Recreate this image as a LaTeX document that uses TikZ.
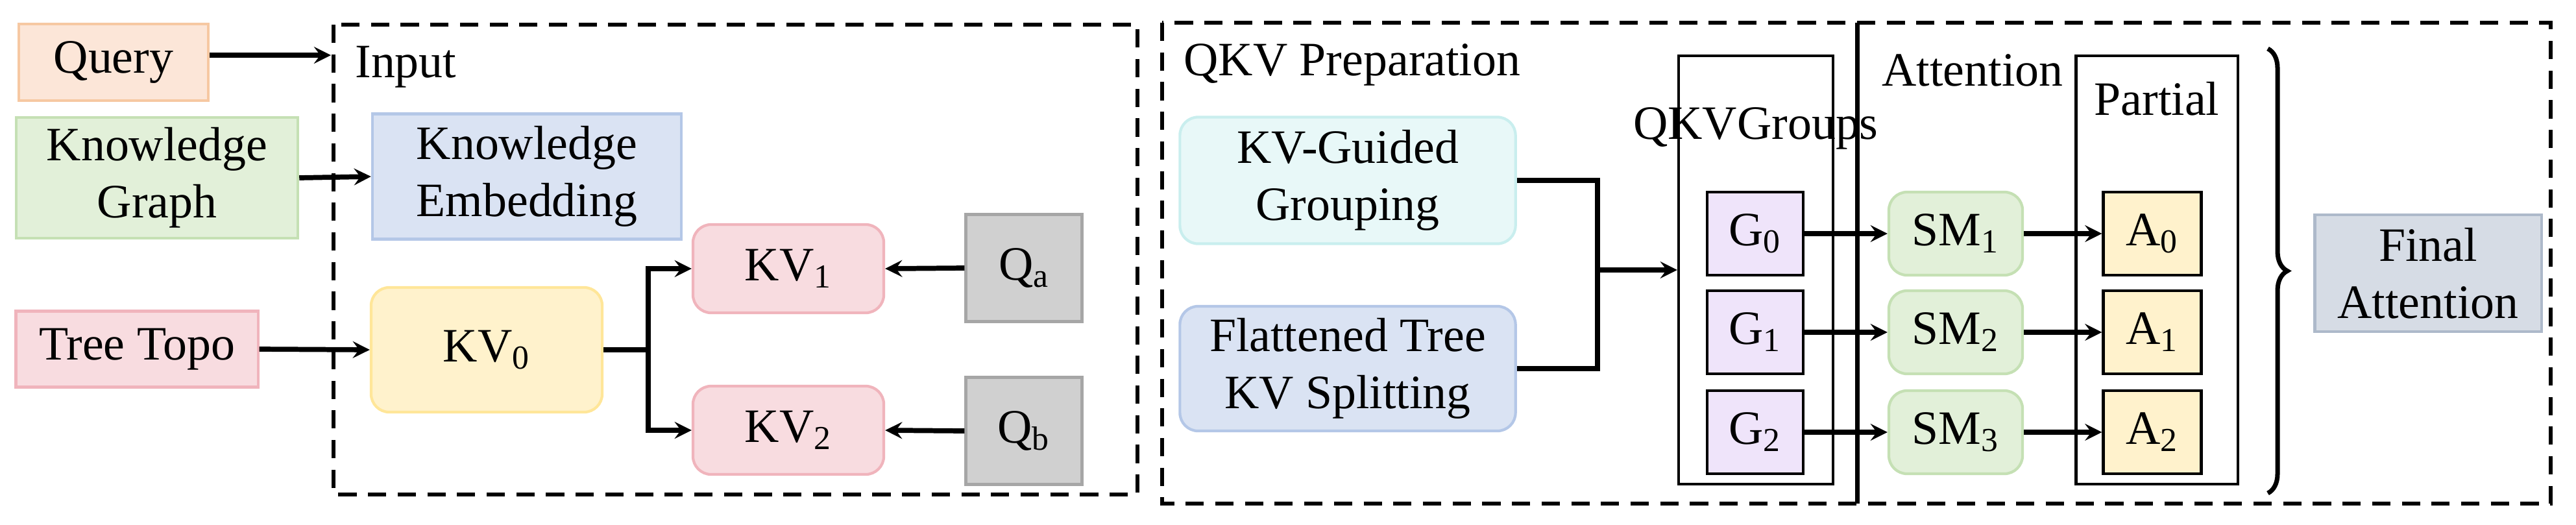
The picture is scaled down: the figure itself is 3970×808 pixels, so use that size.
\documentclass[tikz,border=0pt]{standalone}
\usepackage{fontspec}
\setmainfont{Liberation Serif}
\usetikzlibrary{decorations.pathreplacing}

\definecolor{queryfill}{HTML}{FCE6D8}\definecolor{querydraw}{HTML}{F6C8A2}
\definecolor{kgfill}{HTML}{E2F0D9}\definecolor{kgdraw}{HTML}{C5E0B4}
\definecolor{kefill}{HTML}{DAE3F3}\definecolor{kedraw}{HTML}{B4C7E7}
\definecolor{ttfill}{HTML}{F8DCE0}\definecolor{ttdraw}{HTML}{F0B4BC}
\definecolor{kvfill}{HTML}{FFF2CC}\definecolor{kvdraw}{HTML}{FFE699}
\definecolor{qfill}{HTML}{D0D0D0}\definecolor{qdraw}{HTML}{A6A6A6}
\definecolor{kvgfill}{HTML}{E8F8F8}\definecolor{kvgdraw}{HTML}{C9EEEE}
\definecolor{gfill}{HTML}{EFE4FA}
\definecolor{finfill}{HTML}{D6DCE5}\definecolor{findraw}{HTML}{ADB9CA}

\tikzset{
  box/.style={draw,line width=1.2pt,align=center,inner sep=2pt},
  rbox/.style={box,rounded corners=8pt},
  arr/.style={line width=2.2pt,-stealth},
  lnk/.style={line width=2.2pt},
  every node/.style={font=\fontsize{21}{25}\selectfont}
}

\begin{document}
\begin{tikzpicture}[x=0.01cm,y=-0.01cm]
\useasboundingbox (0,0) rectangle (3970,808);
% frames
\draw[line width=1.5pt,dash pattern=on 8pt off 5pt] (514,38) rectangle (1753,762);
\draw[line width=1.5pt,dash pattern=on 8pt off 5pt] (1791,35) rectangle (3931,776);
\draw[line width=2pt] (2862,35) -- (2862,776);
\node[anchor=west] (inlbl) at (535,103) {Input};
\node[anchor=west] (qkvlbl) at (1812,100) {QKV Preparation};
\node[anchor=west] (attlbl) at (2888,108) {Attention};

% input part
\node[box,fill=queryfill,draw=querydraw,minimum width=2.92cm,minimum height=1.18cm] (query) at (175,96) {Query};
\node[box,fill=kgfill,draw=kgdraw,minimum width=4.34cm,minimum height=1.86cm] (kg) at (242,274) {Knowledge\\Graph};
\node[box,fill=kefill,draw=kedraw,minimum width=4.76cm,minimum height=1.93cm] (ke) at (812,272) {Knowledge\\Embedding};
\node[box,fill=ttfill,draw=ttdraw,minimum width=3.73cm,minimum height=1.17cm] (tt) at (211,538) {Tree Topo};
\node[rbox,fill=kvfill,draw=kvdraw,minimum width=3.56cm,minimum height=1.92cm] (kv0) at (750,539) {KV\textsubscript{0}};
\node[rbox,fill=ttfill,draw=ttdraw,minimum width=2.94cm,minimum height=1.36cm] (kv1) at (1215,414) {KV\textsubscript{1}};
\node[rbox,fill=ttfill,draw=ttdraw,minimum width=2.94cm,minimum height=1.36cm] (kv2) at (1215,663) {KV\textsubscript{2}};
\node[box,fill=qfill,draw=qdraw,minimum width=1.79cm,minimum height=1.65cm] (qa) at (1578,413) {Q\textsubscript{a}};
\node[box,fill=qfill,draw=qdraw,minimum width=1.79cm,minimum height=1.65cm] (qb) at (1578,664) {Q\textsubscript{b}};
\coordinate (inlet) at (510,85);
\draw[arr] (query.east|-inlet) -- (inlet);
\draw[arr] (kg.east) -- (ke.west);
\draw[arr] (tt.east) -- (kv0.west);
\draw[arr] (kv0.east) -- ++(69,0) |- (kv1.west);
\draw[arr] (kv0.east) -- ++(69,0) |- (kv2.west);
\draw[arr] (qa.west) -- (kv1.east);
\draw[arr] (qb.west) -- (kv2.east);

% QKV preparation
\node[rbox,fill=kvgfill,draw=kvgdraw,minimum width=5.17cm,minimum height=1.95cm] (kvg) at (2077,278) {KV-Guided\\Grouping};
\node[rbox,fill=kefill,draw=kedraw,minimum width=5.17cm,minimum height=1.92cm] (ft) at (2077,568) {Flattened Tree\\KV Splitting};
\node[box,draw=black,minimum width=2.38cm,minimum height=6.6cm] (groups) at (2706,416) {};
\node (grplbl) at (2706,198) {QKV\\Groups};
\coordinate (merge) at (2462,416);
\draw[lnk] (kvg.east) -| (merge) |- (ft.east);
\draw[arr] (merge) -- (groups.west);

% attention
\node[box,draw=black,minimum width=2.49cm,minimum height=6.6cm] (partial) at (3324,416) {};
\node (partlbl) at (3324,152) {Partial};
\foreach \i/\y in {0/360,1/512,2/666}{
  \pgfmathtruncatemacro{\j}{\i+1}
  \node[box,fill=gfill,draw=black,minimum width=1.48cm,minimum height=1.28cm] (g\i) at (2705,\y) {G\textsubscript{\i}};
  \node[rbox,fill=kgfill,draw=kgdraw,minimum width=2.06cm,minimum height=1.28cm] (sm\i) at (3014,\y) {SM\textsubscript{\j}};
  \node[box,fill=kvfill,draw=black,minimum width=1.51cm,minimum height=1.28cm] (a\i) at (3317,\y) {A\textsubscript{\i}};
  \draw[arr] (g\i) -- (sm\i);
  \draw[arr] (sm\i) -- (a\i);
}
\node[box,fill=finfill,draw=findraw,minimum width=3.49cm,minimum height=1.8cm] (final) at (3742,421) {Final\\Attention};
\draw[line width=2pt,decorate,decoration={brace,amplitude=0.3cm}] (3495,75) -- (3495,760);
\end{tikzpicture}
\end{document}
